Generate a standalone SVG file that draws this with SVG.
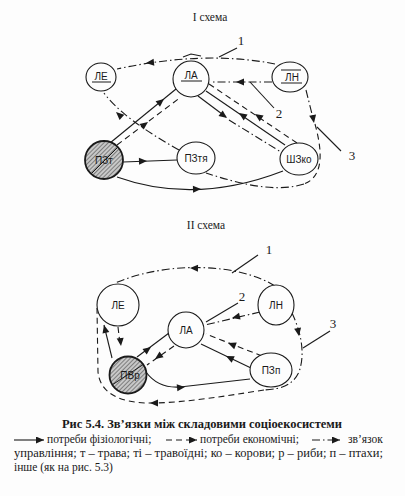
<svg xmlns="http://www.w3.org/2000/svg" xmlns:xlink="http://www.w3.org/1999/xlink" width="405" height="496" viewBox="0 0 405 496">
<style>
.bg{fill:#fdfdfd}
.nd{fill:#fdfdfd;stroke:#1a1a1a;stroke-width:1.1}
.hn{fill:url(#hatch);stroke:#1a1a1a;stroke-width:1.8}
.lb{font-family:"Liberation Sans",Arial,sans-serif;font-size:10px;fill:#1a1a1a;text-anchor:middle}
.ttl{font-family:"Liberation Serif","Times New Roman",serif;font-size:11.5px;fill:#222;text-anchor:middle}
.num{font-family:"Liberation Serif","Times New Roman",serif;font-size:13px;fill:#1a1a1a;text-anchor:middle}
.cap{font-family:"Liberation Serif","Times New Roman",serif;font-size:12px;font-weight:bold;fill:#1a1a1a}
.leg{font-family:"Liberation Serif","Times New Roman",serif;font-size:11.5px;fill:#1a1a1a}
.s{fill:none;stroke:#1a1a1a;stroke-width:1.1}
.d{fill:none;stroke:#1a1a1a;stroke-width:1.1;stroke-dasharray:6 4}
.dd{fill:none;stroke:#1a1a1a;stroke-width:1.1;stroke-dasharray:8 3 1.5 3}
.ah{fill:#1a1a1a}
.ul{stroke:#1a1a1a;stroke-width:1}
</style>
<defs>
<pattern id="hatch" width="3" height="3" patternUnits="userSpaceOnUse" patternTransform="rotate(45)">
<rect width="3" height="3" fill="#c8c8c8"/>
<line x1="0" y1="0" x2="0" y2="3" stroke="#333" stroke-width="1"/>
</pattern>
<path id="ah" d="M0,0 L-8,-3.5 L-8,3.5 Z"/>
<marker id="me" markerWidth="8" markerHeight="7" refX="8" refY="3.5" orient="auto" markerUnits="userSpaceOnUse"><path d="M0,0 L8,3.5 L0,7 Z" fill="#1a1a1a"/></marker>
</defs>
<rect class="bg" x="0" y="0" width="405" height="496"/>

<text class="ttl" x="210" y="21">I схема</text>
<text class="ttl" x="206" y="229">II схема</text>

<!-- Connectors -->
<g id="connectors">
<!-- Scheme I -->
<path class="dd" d="M275,64 Q205,50 117,69"/>
<path class="s" d="M183,57 L191,54 L201,56" stroke-width="1.6"/>
<use class="ah" xlink:href="#ah" transform="translate(146,63) rotate(174)"/>
<path class="dd" d="M272,82 L210,82"/>
<use class="ah" xlink:href="#ah" transform="translate(236,82) rotate(180)"/>
<path class="dd" d="M306,90 L313,118"/>
<use class="ah" xlink:href="#ah" transform="translate(314,123) rotate(80)"/>
<path class="d" d="M315,124 C321,146 326,176 304,184"/>
<path class="dd" d="M304,184 C275,193 240,184 206,173"/>
<path class="s" d="M117,177 Q195,205 283,171"/>
<use class="ah" xlink:href="#ah" transform="translate(201,189) rotate(-2)"/>
<path class="s" d="M123,162 L177,160"/>
<use class="ah" xlink:href="#ah" transform="translate(147,161) rotate(-2)"/>
<path class="s" d="M110,143 L176,89"/>
<use class="ah" xlink:href="#ah" transform="translate(164,99) rotate(-39)"/>
<path class="d" d="M117,145 L181,97"/>
<use class="ah" xlink:href="#ah" transform="translate(148,122) rotate(-37)"/>
<path class="dd" d="M179,150 Q122,118 104,93"/>
<use class="ah" xlink:href="#ah" transform="translate(116,112) rotate(-138)"/>
<path class="s" d="M198,96 L226,117"/>
<use class="ah" xlink:href="#ah" transform="translate(227,118) rotate(37)"/>
<path class="dd" d="M229,120 L281,152"/>
<path class="s" d="M285,145 L206,91"/>
<use class="ah" xlink:href="#ah" transform="translate(239,113) rotate(214)"/>
<path class="d" d="M297,143 L209,84"/>
<use class="ah" xlink:href="#ah" transform="translate(255,114) rotate(214)"/>
<!-- leaders scheme I -->
<path class="s" d="M237,48 L219,57"/>
<path class="s" d="M250,82 L274,108"/>
<path class="s" d="M317,127 L341,151"/>

<!-- Scheme II -->
<path class="dd" d="M275,286 C240,264 170,260 115,283"/>
<use class="ah" xlink:href="#ah" transform="translate(190,268) rotate(181)"/>
<path class="dd" d="M260,312 L205,325"/>
<use class="ah" xlink:href="#ah" transform="translate(232,318) rotate(167)"/>
<path class="dd" d="M292,313 C300,330 306,352 299,372 C293,385 282,389 264,390"/>
<use class="ah" xlink:href="#ah" transform="translate(299,336) rotate(80)"/>
<path class="d" d="M264,390 C225,396 190,402 155,403 C118,404 100,392 98,372 L97,308"/>
<use class="ah" xlink:href="#ah" transform="translate(150,403) rotate(180)"/>
<path class="s" d="M137,357 L173,330"/>
<use class="ah" xlink:href="#ah" transform="translate(151,347) rotate(-37)"/>
<path class="d" d="M174,346 L147,365"/>
<use class="ah" xlink:href="#ah" transform="translate(155,359) rotate(145)"/>
<path class="s" d="M112,358 L104,325"/>
<use class="ah" xlink:href="#ah" transform="translate(104,325) rotate(-104)"/>
<path class="d" d="M118,327 L120,344"/>
<use class="ah" xlink:href="#ah" transform="translate(121,346) rotate(84)"/>
<path class="s" d="M251,368 L201,344"/>
<use class="ah" xlink:href="#ah" transform="translate(226,356) rotate(206)"/>
<path class="d" d="M262,356 L206,334"/>
<use class="ah" xlink:href="#ah" transform="translate(228,343) rotate(201)"/>
<path class="s" d="M146,372 C154,383 165,388 180,387 L250,379"/>
<use class="ah" xlink:href="#ah" transform="translate(185,387) rotate(-6)"/>
<!-- leaders scheme II -->
<path class="s" d="M258,255 L232,273"/>
<path class="s" d="M238,303 L206,322"/>
<path class="s" d="M330,331 L303,348"/>
</g>

<!-- Numbers -->
<text class="num" x="241" y="45">1</text>
<text class="num" x="279" y="118">2</text>
<text class="num" x="352" y="160">3</text>
<text class="num" x="269" y="254">1</text>
<text class="num" x="242" y="301">2</text>
<text class="num" x="333" y="328">3</text>

<!-- Scheme I nodes -->
<g id="s1-le"><ellipse class="nd" cx="101" cy="77" rx="15" ry="14"/><text class="lb" x="101" y="80">ЛЕ</text><line class="ul" x1="92" y1="82" x2="111" y2="82"/></g>
<g id="s1-la"><ellipse class="nd" cx="191" cy="79" rx="18" ry="18"/><text class="lb" x="191" y="79">ЛА</text><line class="ul" x1="181" y1="81" x2="202" y2="81"/></g>
<g id="s1-ln"><ellipse class="nd" cx="290" cy="77" rx="18" ry="15"/><text class="lb" x="292" y="81">ЛН</text><line class="ul" x1="281" y1="70" x2="301" y2="70"/><line class="ul" x1="281" y1="83" x2="302" y2="83"/></g>
<g id="s1-pzt"><circle class="hn" cx="104" cy="160" r="19"/><line class="ul" x1="91" y1="174" x2="118" y2="147"/><text class="lb" x="104" y="164">ПЗт</text></g>
<g id="s1-pztya"><ellipse class="nd" cx="196" cy="158" rx="19" ry="16"/><text class="lb" x="196" y="162">ПЗтя</text></g>
<g id="s1-shzko"><ellipse class="nd" cx="299" cy="159" rx="19" ry="16"/><text class="lb" x="299" y="163">ШЗко</text></g>

<!-- Scheme II nodes -->
<g id="s2-le"><circle class="nd" cx="118" cy="305" r="21"/><text class="lb" x="118" y="309">ЛЕ</text></g>
<g id="s2-ln"><ellipse class="nd" cx="276" cy="305" rx="18" ry="20"/><text class="lb" x="276" y="309">ЛН</text></g>
<g id="s2-la"><circle class="nd" cx="186" cy="330" r="18"/><text class="lb" x="186" y="334">ЛА</text></g>
<g id="s2-pzp"><ellipse class="nd" cx="271" cy="370" rx="21" ry="17"/><text class="lb" x="271" y="374">ПЗп</text></g>
<g id="s2-pvr"><circle class="hn" cx="128" cy="375" r="18.5"/><line class="ul" x1="112" y1="385" x2="144" y2="364"/><text class="lb" x="130" y="379">ПВр</text></g>

<!-- Caption and legend -->
<text class="cap" x="62" y="428" textLength="280" lengthAdjust="spacingAndGlyphs">Рис 5.4.  Зв’язки між складовими соціоекосистеми</text>
<line class="s" x1="14" y1="440" x2="44" y2="440" marker-end="url(#me)"/>
<text class="leg" x="47" y="443">потреби фізіологічні;</text>
<line class="d" x1="166" y1="440" x2="197" y2="440" stroke-dasharray="4 3" marker-end="url(#me)"/>
<text class="leg" x="200" y="443">потреби економічні;</text>
<line class="dd" x1="312" y1="440" x2="340" y2="440" stroke-dasharray="6 3 1.5 3" marker-end="url(#me)"/>
<text class="leg" x="348" y="443">зв’язок</text>
<text class="leg" x="14" y="457" textLength="369" lengthAdjust="spacingAndGlyphs">управління; т – трава; ті – травоїдні; ко – корови; р – риби; п – птахи;</text>
<text class="leg" x="14" y="471">інше (як на рис. 5.3)</text>
</svg>
